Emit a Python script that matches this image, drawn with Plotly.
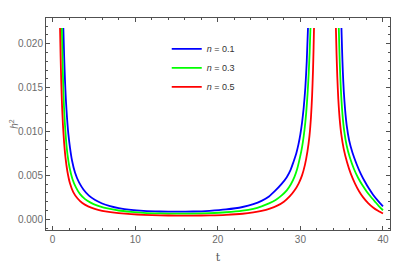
import plotly.graph_objects as go

# values, one list per branch of each curve
t_n01_a = [1.30, 1.40, 1.50, 1.62, 1.75, 1.91, 2.1, 2.35, 2.72, 3.2, 3.73, 4.4, 5.15, 6.0, 6.96,
           8.0, 9.5, 11, 13, 15, 17, 19, 21, 23, 24.3, 25.3, 26.2, 26.9, 27.7, 28.35, 28.8,
           29.15, 29.5, 29.76, 30.0, 30.2, 30.4, 30.6, 30.77, 30.92]
h2_n01_a = [0.0218, 0.0185, 0.0158, 0.0134, 0.0115, 0.0097, 0.0082, 0.0067, 0.0053, 0.0042,
            0.0034, 0.0027, 0.0022, 0.0018, 0.00150, 0.00127, 0.00107, 0.00096, 0.00089,
            0.00087, 0.00089, 0.00097, 0.00112, 0.00140, 0.00172, 0.0021, 0.0026, 0.0032,
            0.0040, 0.0048, 0.0056, 0.0065, 0.0075, 0.0085, 0.0097, 0.0110, 0.0127, 0.0150,
            0.0180, 0.0218]
t_n01_b = [34.97, 35.05, 35.14, 35.26, 35.42, 35.62, 35.9, 36.3, 36.8, 37.3, 37.8, 38.3, 38.8,
           39.4, 40.0]
h2_n01_b = [0.0218, 0.0192, 0.0168, 0.0145, 0.0124, 0.0106, 0.0090, 0.0076, 0.0063, 0.0052,
            0.0043, 0.0035, 0.0028, 0.0021, 0.00148]

t_n03_a = [1.12, 1.20, 1.28, 1.37, 1.48, 1.62, 1.80, 2.05, 2.4, 2.84, 3.3, 3.93, 4.6, 5.35, 6.2,
           6.96, 8.0, 9.5, 11, 13, 15, 17, 19, 21, 23, 24.3, 25.3, 26.2, 27.0, 27.7, 28.35,
           28.85, 29.27, 29.6, 29.84, 30.1, 30.3, 30.5, 30.7, 30.87, 31.0, 31.12, 31.22]
h2_n03_a = [0.0218, 0.0182, 0.0154, 0.0130, 0.0110, 0.0091, 0.0074, 0.0059, 0.0046, 0.0036,
            0.0029, 0.0023, 0.0019, 0.00158, 0.00134, 0.00118, 0.00100, 0.00085, 0.00074,
            0.00067, 0.00064, 0.00065, 0.00070, 0.00080, 0.00098, 0.00120, 0.00148, 0.00182,
            0.0022, 0.0027, 0.0033, 0.0040, 0.0048, 0.0057, 0.0066, 0.0077, 0.0088, 0.0102,
            0.0121, 0.0143, 0.0165, 0.0190, 0.0218]
t_n03_b = [34.65, 34.73, 34.82, 34.94, 35.1, 35.3, 35.6, 36.0, 36.5, 37.0, 37.5, 38.0, 38.5,
           39.0, 39.5, 40.0]
h2_n03_b = [0.0218, 0.0190, 0.0165, 0.0141, 0.0119, 0.0101, 0.0084, 0.0070, 0.0057, 0.0047,
            0.0039, 0.0032, 0.0026, 0.00205, 0.00150, 0.00103]

t_n05_a = [0.90, 0.97, 1.05, 1.14, 1.25, 1.38, 1.55, 1.78, 2.1, 2.5, 3.0, 3.6, 4.3, 5.1, 6.0,
           7.0, 8.0, 9.5, 11, 13, 15, 17, 19, 21, 23, 24.3, 25.3, 26.3, 27.2, 28.0, 28.7, 29.3,
           29.8, 30.2, 30.55, 30.85, 31.1, 31.28, 31.42, 31.53, 31.6, 31.65]
h2_n05_a = [0.0218, 0.0185, 0.0155, 0.0130, 0.0108, 0.0089, 0.0071, 0.0055, 0.0041, 0.0031,
            0.0024, 0.00185, 0.00147, 0.00118, 0.00097, 0.00082, 0.00071, 0.00059, 0.00051,
            0.00045, 0.00042, 0.00042, 0.00045, 0.00051, 0.00063, 0.00078, 0.00096, 0.00122,
            0.00155, 0.0020, 0.0026, 0.0033, 0.0041, 0.0050, 0.0062, 0.0077, 0.0095, 0.0116,
            0.0141, 0.0170, 0.0196, 0.0218]
t_n05_b = [34.30, 34.38, 34.47, 34.59, 34.75, 34.95, 35.25, 35.65, 36.1, 36.6, 37.1, 37.6, 38.2,
           38.8, 39.4, 40.0]
h2_n05_b = [0.0218, 0.0188, 0.0162, 0.0137, 0.0115, 0.0097, 0.0080, 0.0065, 0.0052, 0.0041,
            0.0032, 0.0025, 0.00185, 0.00135, 0.00097, 0.00066]

series = [
    ("<i>n</i> = 0.1", "#0000ff", t_n01_a, h2_n01_a, t_n01_b, h2_n01_b),
    ("<i>n</i> = 0.3", "#00ff00", t_n03_a, h2_n03_a, t_n03_b, h2_n03_b),
    ("<i>n</i> = 0.5", "#ff0000", t_n05_a, h2_n05_a, t_n05_b, h2_n05_b),
]

fig = go.Figure()
for name, color, ta, ya, tb, yb in series:
    fig.add_trace(go.Scatter(
        x=ta + [None] + tb,
        y=ya + [None] + yb,
        mode="lines",
        name=name,
        line=dict(color=color, width=1.8, shape="spline", smoothing=0.6),
    ))

axis_font = dict(family="Liberation Sans, Arial, sans-serif", size=10, color="#6b6b6b")
frame = "#505050"

# the page body adds an 8px margin, so the figure is a bit smaller than the window
fig.update_layout(
    width=401,
    height=257,
    margin=dict(l=38, r=19, t=10, b=35),
    plot_bgcolor="#ffffff",
    paper_bgcolor="#ffffff",
    showlegend=True,
    legend=dict(
        x=0.351, y=0.923, xanchor="left", yanchor="top",
        bgcolor="rgba(0,0,0,0)",
        font=dict(family="Liberation Sans, Arial, sans-serif", size=9, color="#333333"),
        tracegroupgap=0,
    ),
)

fig.update_xaxes(
    range=[-0.8, 40.85],
    tickvals=[0, 10, 20, 30, 40],
    ticks="inside", ticklen=4, tickcolor=frame,
    minor=dict(ticks="inside", dtick=2, ticklen=2, tickcolor=frame),
    showline=True, linecolor=frame, linewidth=1, mirror="allticks",
    showgrid=False, zeroline=False, automargin=False,
    tickfont=axis_font,
    title=dict(text="t", font=dict(family="DejaVu Serif, serif", size=11, color="#555555"), standoff=9),
)
fig.update_yaxes(
    range=[-0.00122, 0.02293],
    tickvals=[0, 0.005, 0.010, 0.015, 0.020],
    tickformat=".3f",
    ticks="inside", ticklen=4, tickcolor=frame,
    minor=dict(ticks="inside", dtick=0.001, ticklen=2, tickcolor=frame),
    showline=True, linecolor=frame, linewidth=1, mirror="allticks",
    showgrid=False, zeroline=False, automargin=False,
    tickfont=axis_font,
    title=dict(text="<i>h</i><sup>2</sup>", font=dict(family="Liberation Sans, Arial, sans-serif", size=10, color="#6b6b6b"), standoff=0),
)

fig.write_html("out.html")
